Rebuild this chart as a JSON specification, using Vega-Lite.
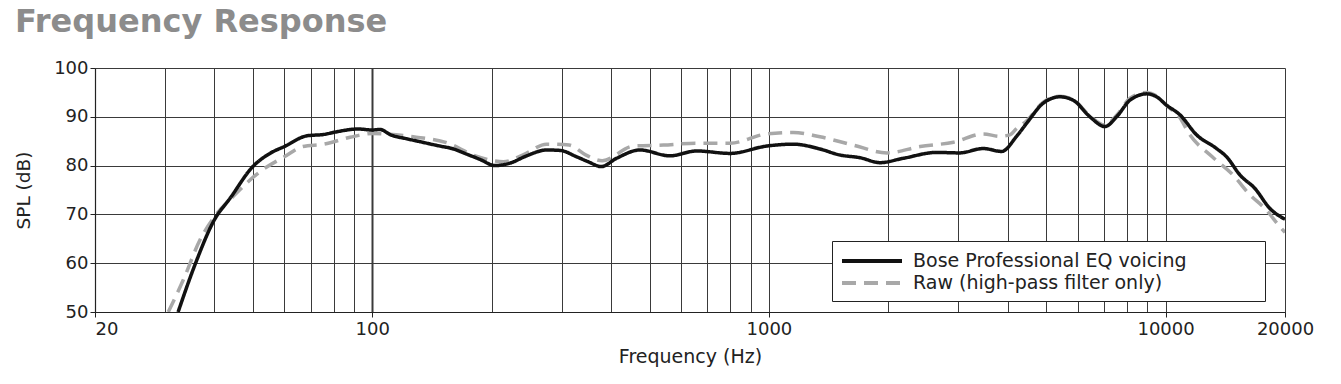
{
  "$schema": "https://vega.github.io/schema/vega-lite/v6.json",
  "width": 1190,
  "height": 244,
  "autosize": {"type": "none"},
  "padding": {"left": 95, "top": 68, "right": 56, "bottom": 72},
  "background": "white",
  "title": {
    "text": "Frequency Response",
    "anchor": "start",
    "frame": "group",
    "dx": -80,
    "offset": -4.5,
    "baseline": "alphabetic",
    "font": "DejaVu Sans",
    "fontSize": 32,
    "fontWeight": "bold",
    "color": "#8c8c8c"
  },
  "config": {
    "view": {"stroke": null},
    "font": "DejaVu Sans"
  },
  "data": {
    "values": [
      {"f": 32.4, "spl": 50.0, "series": "Bose Professional EQ voicing"},
      {"f": 35.7, "spl": 59.6, "series": "Bose Professional EQ voicing"},
      {"f": 40, "spl": 68.9, "series": "Bose Professional EQ voicing"},
      {"f": 43.8, "spl": 73.3, "series": "Bose Professional EQ voicing"},
      {"f": 50, "spl": 79.8, "series": "Bose Professional EQ voicing"},
      {"f": 55.2, "spl": 82.5, "series": "Bose Professional EQ voicing"},
      {"f": 60, "spl": 83.9, "series": "Bose Professional EQ voicing"},
      {"f": 68.4, "spl": 86.1, "series": "Bose Professional EQ voicing"},
      {"f": 75.7, "spl": 86.4, "series": "Bose Professional EQ voicing"},
      {"f": 81, "spl": 86.9, "series": "Bose Professional EQ voicing"},
      {"f": 92.2, "spl": 87.5, "series": "Bose Professional EQ voicing"},
      {"f": 100, "spl": 87.3, "series": "Bose Professional EQ voicing"},
      {"f": 104.6, "spl": 87.4, "series": "Bose Professional EQ voicing"},
      {"f": 111.3, "spl": 86.3, "series": "Bose Professional EQ voicing"},
      {"f": 122.1, "spl": 85.5, "series": "Bose Professional EQ voicing"},
      {"f": 131.9, "spl": 84.9, "series": "Bose Professional EQ voicing"},
      {"f": 148.2, "spl": 84.0, "series": "Bose Professional EQ voicing"},
      {"f": 158.8, "spl": 83.5, "series": "Bose Professional EQ voicing"},
      {"f": 173.7, "spl": 82.3, "series": "Bose Professional EQ voicing"},
      {"f": 187.7, "spl": 81.2, "series": "Bose Professional EQ voicing"},
      {"f": 203.9, "spl": 80.0, "series": "Bose Professional EQ voicing"},
      {"f": 222.4, "spl": 80.5, "series": "Bose Professional EQ voicing"},
      {"f": 245, "spl": 82.0, "series": "Bose Professional EQ voicing"},
      {"f": 275, "spl": 83.2, "series": "Bose Professional EQ voicing"},
      {"f": 298, "spl": 83.1, "series": "Bose Professional EQ voicing"},
      {"f": 327.6, "spl": 81.8, "series": "Bose Professional EQ voicing"},
      {"f": 350, "spl": 80.8, "series": "Bose Professional EQ voicing"},
      {"f": 378, "spl": 79.8, "series": "Bose Professional EQ voicing"},
      {"f": 413, "spl": 81.5, "series": "Bose Professional EQ voicing"},
      {"f": 473, "spl": 83.2, "series": "Bose Professional EQ voicing"},
      {"f": 563, "spl": 82.0, "series": "Bose Professional EQ voicing"},
      {"f": 657, "spl": 83.0, "series": "Bose Professional EQ voicing"},
      {"f": 798, "spl": 82.5, "series": "Bose Professional EQ voicing"},
      {"f": 987, "spl": 84.0, "series": "Bose Professional EQ voicing"},
      {"f": 1152, "spl": 84.4, "series": "Bose Professional EQ voicing"},
      {"f": 1345, "spl": 83.4, "series": "Bose Professional EQ voicing"},
      {"f": 1504, "spl": 82.2, "series": "Bose Professional EQ voicing"},
      {"f": 1700, "spl": 81.6, "series": "Bose Professional EQ voicing"},
      {"f": 1905, "spl": 80.6, "series": "Bose Professional EQ voicing"},
      {"f": 2181, "spl": 81.5, "series": "Bose Professional EQ voicing"},
      {"f": 2648, "spl": 82.7, "series": "Bose Professional EQ voicing"},
      {"f": 3024, "spl": 82.6, "series": "Bose Professional EQ voicing"},
      {"f": 3469, "spl": 83.5, "series": "Bose Professional EQ voicing"},
      {"f": 3861, "spl": 82.9, "series": "Bose Professional EQ voicing"},
      {"f": 4211, "spl": 86.0, "series": "Bose Professional EQ voicing"},
      {"f": 4466, "spl": 88.7, "series": "Bose Professional EQ voicing"},
      {"f": 4917, "spl": 92.8, "series": "Bose Professional EQ voicing"},
      {"f": 5416, "spl": 94.1, "series": "Bose Professional EQ voicing"},
      {"f": 5849, "spl": 93.4, "series": "Bose Professional EQ voicing"},
      {"f": 6446, "spl": 90.0, "series": "Bose Professional EQ voicing"},
      {"f": 7031, "spl": 88.0, "series": "Bose Professional EQ voicing"},
      {"f": 7525, "spl": 90.0, "series": "Bose Professional EQ voicing"},
      {"f": 8131, "spl": 93.4, "series": "Bose Professional EQ voicing"},
      {"f": 8956, "spl": 94.7, "series": "Bose Professional EQ voicing"},
      {"f": 9494, "spl": 94.1, "series": "Bose Professional EQ voicing"},
      {"f": 10050, "spl": 92.4, "series": "Bose Professional EQ voicing"},
      {"f": 10870, "spl": 90.4, "series": "Bose Professional EQ voicing"},
      {"f": 11970, "spl": 86.3, "series": "Bose Professional EQ voicing"},
      {"f": 13440, "spl": 83.5, "series": "Bose Professional EQ voicing"},
      {"f": 14250, "spl": 81.8, "series": "Bose Professional EQ voicing"},
      {"f": 15390, "spl": 78.1, "series": "Bose Professional EQ voicing"},
      {"f": 16800, "spl": 75.3, "series": "Bose Professional EQ voicing"},
      {"f": 18330, "spl": 71.2, "series": "Bose Professional EQ voicing"},
      {"f": 20000, "spl": 69.0, "series": "Bose Professional EQ voicing"},
      {"f": 30.6, "spl": 50.0, "series": "Raw (high-pass filter only)"},
      {"f": 33.4, "spl": 56.6, "series": "Raw (high-pass filter only)"},
      {"f": 36.8, "spl": 64.8, "series": "Raw (high-pass filter only)"},
      {"f": 40, "spl": 69.5, "series": "Raw (high-pass filter only)"},
      {"f": 44.5, "spl": 73.6, "series": "Raw (high-pass filter only)"},
      {"f": 52.2, "spl": 78.8, "series": "Raw (high-pass filter only)"},
      {"f": 60, "spl": 81.8, "series": "Raw (high-pass filter only)"},
      {"f": 66.8, "spl": 83.9, "series": "Raw (high-pass filter only)"},
      {"f": 75.7, "spl": 84.4, "series": "Raw (high-pass filter only)"},
      {"f": 87.9, "spl": 85.8, "series": "Raw (high-pass filter only)"},
      {"f": 100, "spl": 86.6, "series": "Raw (high-pass filter only)"},
      {"f": 107, "spl": 86.5, "series": "Raw (high-pass filter only)"},
      {"f": 126.8, "spl": 85.9, "series": "Raw (high-pass filter only)"},
      {"f": 154, "spl": 84.7, "series": "Raw (high-pass filter only)"},
      {"f": 182, "spl": 82.0, "series": "Raw (high-pass filter only)"},
      {"f": 214, "spl": 80.8, "series": "Raw (high-pass filter only)"},
      {"f": 240, "spl": 82.2, "series": "Raw (high-pass filter only)"},
      {"f": 275, "spl": 84.4, "series": "Raw (high-pass filter only)"},
      {"f": 313.6, "spl": 84.2, "series": "Raw (high-pass filter only)"},
      {"f": 345, "spl": 82.2, "series": "Raw (high-pass filter only)"},
      {"f": 380, "spl": 81.0, "series": "Raw (high-pass filter only)"},
      {"f": 455, "spl": 84.0, "series": "Raw (high-pass filter only)"},
      {"f": 542, "spl": 84.2, "series": "Raw (high-pass filter only)"},
      {"f": 657, "spl": 84.6, "series": "Raw (high-pass filter only)"},
      {"f": 798, "spl": 84.6, "series": "Raw (high-pass filter only)"},
      {"f": 987, "spl": 86.5, "series": "Raw (high-pass filter only)"},
      {"f": 1152, "spl": 86.8, "series": "Raw (high-pass filter only)"},
      {"f": 1345, "spl": 85.9, "series": "Raw (high-pass filter only)"},
      {"f": 1631, "spl": 84.2, "series": "Raw (high-pass filter only)"},
      {"f": 1984, "spl": 82.6, "series": "Raw (high-pass filter only)"},
      {"f": 2406, "spl": 83.9, "series": "Raw (high-pass filter only)"},
      {"f": 2920, "spl": 84.8, "series": "Raw (high-pass filter only)"},
      {"f": 3469, "spl": 86.5, "series": "Raw (high-pass filter only)"},
      {"f": 3820, "spl": 86.0, "series": "Raw (high-pass filter only)"},
      {"f": 4050, "spl": 86.3, "series": "Raw (high-pass filter only)"},
      {"f": 4211, "spl": 87.6, "series": "Raw (high-pass filter only)"},
      {"f": 4466, "spl": 89.2, "series": "Raw (high-pass filter only)"},
      {"f": 4917, "spl": 93.0, "series": "Raw (high-pass filter only)"},
      {"f": 5416, "spl": 94.2, "series": "Raw (high-pass filter only)"},
      {"f": 5849, "spl": 93.5, "series": "Raw (high-pass filter only)"},
      {"f": 6446, "spl": 90.2, "series": "Raw (high-pass filter only)"},
      {"f": 7031, "spl": 88.3, "series": "Raw (high-pass filter only)"},
      {"f": 7525, "spl": 90.3, "series": "Raw (high-pass filter only)"},
      {"f": 8131, "spl": 93.8, "series": "Raw (high-pass filter only)"},
      {"f": 8956, "spl": 95.0, "series": "Raw (high-pass filter only)"},
      {"f": 9494, "spl": 94.3, "series": "Raw (high-pass filter only)"},
      {"f": 10050, "spl": 92.3, "series": "Raw (high-pass filter only)"},
      {"f": 10870, "spl": 89.8, "series": "Raw (high-pass filter only)"},
      {"f": 11450, "spl": 86.6, "series": "Raw (high-pass filter only)"},
      {"f": 13110, "spl": 81.8, "series": "Raw (high-pass filter only)"},
      {"f": 14780, "spl": 78.1, "series": "Raw (high-pass filter only)"},
      {"f": 16320, "spl": 74.0, "series": "Raw (high-pass filter only)"},
      {"f": 17800, "spl": 71.2, "series": "Raw (high-pass filter only)"},
      {"f": 19410, "spl": 67.5, "series": "Raw (high-pass filter only)"},
      {"f": 20000, "spl": 66.3, "series": "Raw (high-pass filter only)"}
    ]
  },
  "encoding": {
    "x": {
      "field": "f",
      "type": "quantitative",
      "scale": {"type": "log", "domain": [20, 20000], "nice": false},
      "axis": {
        "title": "Frequency (Hz)",
        "titleFont": "DejaVu Sans",
        "titleFontSize": 19,
        "titleFontWeight": "normal",
        "titleColor": "#222222",
        "titlePadding": 9,
        "values": [20, 30, 40, 50, 60, 70, 80, 90, 100, 200, 300, 400, 500, 600, 700, 800, 900, 1000, 2000, 3000, 4000, 5000, 6000, 7000, 8000, 9000, 10000, 20000],
        "labelExpr": "indexof([20,100,1000,10000,20000], datum.value) >= 0 ? datum.value + '' : ''",
        "labelFont": "DejaVu Sans",
        "labelFontSize": 18,
        "labelColor": "#222222",
        "labelPadding": 3,
        "labelAlign": {"condition": {"test": "datum.value == 20", "value": "left"}, "value": "center"},
        "labelOverlap": false,
        "labelBound": false,
        "tickSize": 5,
        "tickColor": "#222222",
        "tickOpacity": {"condition": {"test": "indexof([20,100,1000,10000,20000], datum.value) >= 0", "value": 1}, "value": 0},
        "domainColor": "#222222",
        "domainWidth": 1.2,
        "grid": true,
        "gridColor": "#3a3a3a",
        "gridWidth": {"condition": {"test": "datum.value == 100", "value": 2}, "value": 1},
        "gridOpacity": 1
      }
    },
    "y": {
      "field": "spl",
      "type": "quantitative",
      "scale": {"domain": [50, 100], "nice": false, "zero": false},
      "axis": {
        "title": "SPL (dB)",
        "titleFont": "DejaVu Sans",
        "titleFontSize": 18.5,
        "titleFontWeight": "normal",
        "titleColor": "#222222",
        "titlePadding": 20,
        "values": [50, 60, 70, 80, 90, 100],
        "labelFont": "DejaVu Sans",
        "labelFontSize": 18,
        "labelColor": "#222222",
        "labelPadding": 2,
        "tickSize": 5,
        "tickColor": "#222222",
        "domainColor": "#222222",
        "domainWidth": 1.2,
        "grid": true,
        "gridColor": "#3a3a3a",
        "gridWidth": 1,
        "gridOpacity": 1
      }
    },
    "color": {
      "field": "series",
      "type": "nominal",
      "scale": {"domain": ["Bose Professional EQ voicing", "Raw (high-pass filter only)"], "range": ["#111111", "#a8a8a8"]},
      "legend": {
        "title": null,
        "orient": "none",
        "legendX": 737,
        "legendY": 173,
        "direction": "vertical",
        "padding": 8,
        "strokeColor": "#222222",
        "fillColor": "white",
        "symbolType": "M-1,0H5M39.7,0",
        "symbolSize": 400,
        "symbolStrokeWidth": 4,
        "labelFont": "DejaVu Sans",
        "labelFontSize": 19,
        "labelColor": "#222222",
        "labelOffset": 49,
        "rowPadding": 0,
        "labelLimit": 500
      }
    },
    "strokeDash": {
      "field": "series",
      "type": "nominal",
      "scale": {"domain": ["Bose Professional EQ voicing", "Raw (high-pass filter only)"], "range": [[1, 0], [14, 8]]},
      "legend": null
    }
  },
  "layer": [
    {
      "transform": [{"filter": "datum.series == 'Raw (high-pass filter only)'"}],
      "mark": {"type": "line", "strokeWidth": 3.5, "interpolate": "monotone", "clip": true}
    },
    {
      "transform": [{"filter": "datum.series == 'Bose Professional EQ voicing'"}],
      "mark": {"type": "line", "strokeWidth": 3.5, "interpolate": "monotone", "clip": true}
    }
  ]
}
